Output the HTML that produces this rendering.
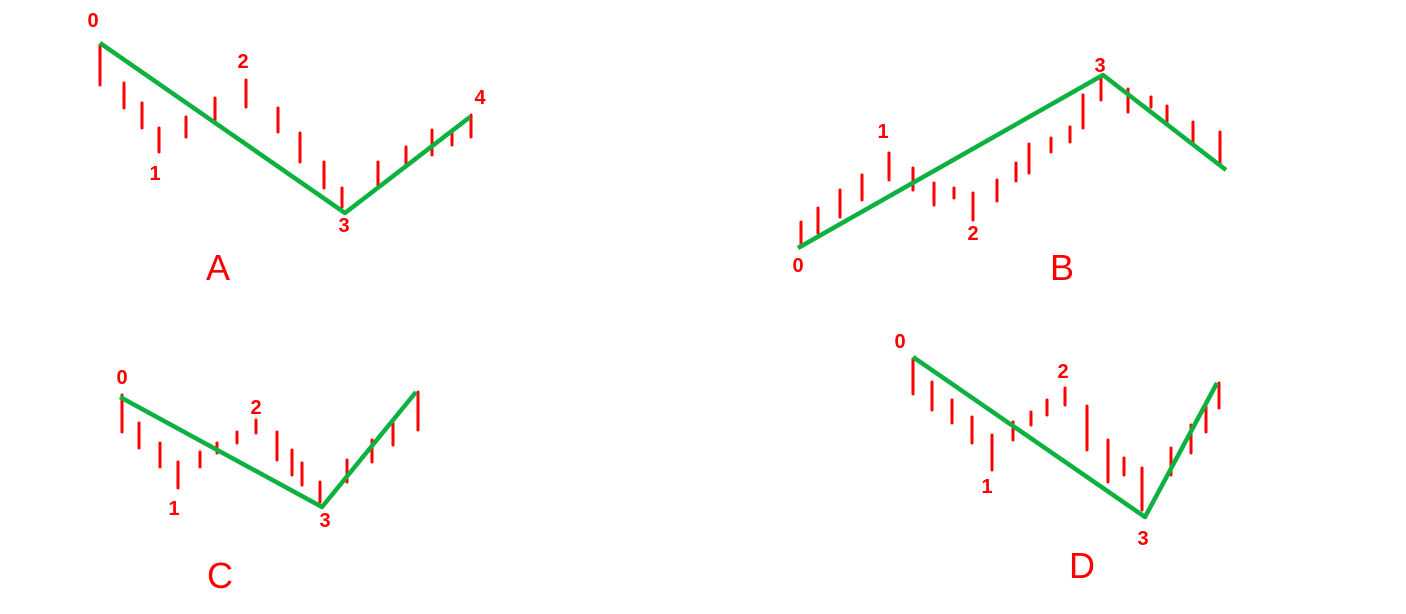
<!DOCTYPE html>
<html><head><meta charset="utf-8"><style>
html,body{margin:0;padding:0;background:#fff;}
svg{display:block;}
text{font-family:"Liberation Sans",sans-serif;fill:#f00;}
</style></head><body>
<svg id="chart" width="1406" height="614" viewBox="0 0 1406 614" xmlns="http://www.w3.org/2000/svg"></svg>
<script>
// Panel A
const aTime=[0,24,42,59,86,115,146,178,200,224,242,278,306,332,352,371];
const aHigh=[575,537,517,492,503,522,540,512,487,458,432,458,473,490,490,505];
const aLow=[535,512,492,468,483,500,513,488,458,432,413,433,453,465,475,483];
const aWaveT=[0,245,370];const aWaveP=[577,407,503];
const aLabels=["0","1","2","3","4"];const aLabT=[-7,55,143,244,380];const aLabP=[593,440,552,388,516];
// Panel B
const bTime=[3,20,42,64,91,115,136,156,175,199,218,231,253,272,285,303,330,353,369,395,422];
const bHigh=[398,412,430,445,467,452,437,432,427,440,457,476,482,493,525,543,531,523,514,498,488];
const bLow=[373,387,403,420,440,430,415,422,400,419,439,447,468,478,492,520,508,513,498,478,457];
const bWaveT=[0,305,428];const bWaveP=[372,545,450];
const bLabels=["0","1","2","3"];const bLabT=[0,85,175,302];const bLabP=[348,482,380,548];
// Panel C
const cTime=[2,19,40,58,80,97,117,136,157,172,182,200,227,252,273,298];
const cHigh=[225,197,177,158,168,177,188,200,188,170,157,138,160,180,197,228];
const cLow=[188,172,153,132,153,167,177,187,160,145,135,118,138,158,175,190];
const cWaveT=[0,202,296];const cWaveP=[223,113,228];
const cLabels=["0","1","2","3"];const cLabT=[2,54,136,205];const cLabP=[236,105,206,93];
// Panel D
const dTime=[0,19,39,59,79,100,118,134,152,174,195,211,229,258,278,293,306];
const dHigh=[261,238,220,203,185,198,208,220,232,214,180,162,152,172,195,213,237];
const dLow=[226,210,197,177,150,180,195,205,215,170,138,145,110,145,167,188,212];
const dWaveT=[0,232,304];const dWaveP=[263,103,237];
const dLabels=["0","1","2","3"];const dLabT=[-13,74,150,230];const dLabP=[272,127,242,75];

const NS="http://www.w3.org/2000/svg";
const svg=document.getElementById("chart");
function xScale(x0){return t=>x0+t;}
function yScale(base){return p=>base-p;}
function panel(id,letter,x0,base,T,H,L,WT,WP,LB,LT,LP,letterX,letterY){
  const X=xScale(x0),Y=yScale(base);
  const g=document.createElementNS(NS,"g");
  
  
  svg.appendChild(g);
  for(let i=0;i<T.length;i++){
    const l=document.createElementNS(NS,"line");
    l.setAttribute('x1',X(T[i]));l.setAttribute('x2',X(T[i]));
    l.setAttribute('y1',Y(H[i]));l.setAttribute('y2',Y(L[i]));
    l.setAttribute('stroke','#ff0000');l.setAttribute('stroke-width','3');l.setAttribute('stroke-linecap','round');
    
    
    g.appendChild(l);
  }
  const pl=document.createElementNS(NS,"polyline");
  pl.setAttribute('points',WT.map((t,i)=>X(t)+','+Y(WP[i])).join(' '));
  pl.setAttribute('fill','none');pl.setAttribute('stroke','#0db140');pl.setAttribute('stroke-width','4.5');pl.setAttribute('stroke-linejoin','round');
  
  
  g.appendChild(pl);
  for(let i=0;i<LB.length;i++){
    const tx=document.createElementNS(NS,"text");
    tx.setAttribute('x',X(LT[i]));tx.setAttribute('y',Y(LP[i]));
    tx.setAttribute('text-anchor','middle');tx.setAttribute('font-size','20');tx.setAttribute('font-weight','bold');
    tx.textContent=LB[i];
    
    
    g.appendChild(tx);
  }
  const lt=document.createElementNS(NS,"text");
  lt.setAttribute('x',letterX);lt.setAttribute('y',letterY);lt.setAttribute('text-anchor','middle');lt.setAttribute('font-size','36');
  lt.textContent=letter;
  
  
  g.appendChild(lt);
}
panel('a','A',100,620,aTime,aHigh,aLow,aWaveT,aWaveP,aLabels,aLabT,aLabP,218,280);
panel('b','B',798,620,bTime,bHigh,bLow,bWaveT,bWaveP,bLabels,bLabT,bLabP,1062,280);
panel('c','C',120,620,cTime,cHigh,cLow,cWaveT,cWaveP,cLabels,cLabT,cLabP,220,588);
panel('d','D',913,620,dTime,dHigh,dLow,dWaveT,dWaveP,dLabels,dLabT,dLabP,1082,578);
</script>
</body></html>
